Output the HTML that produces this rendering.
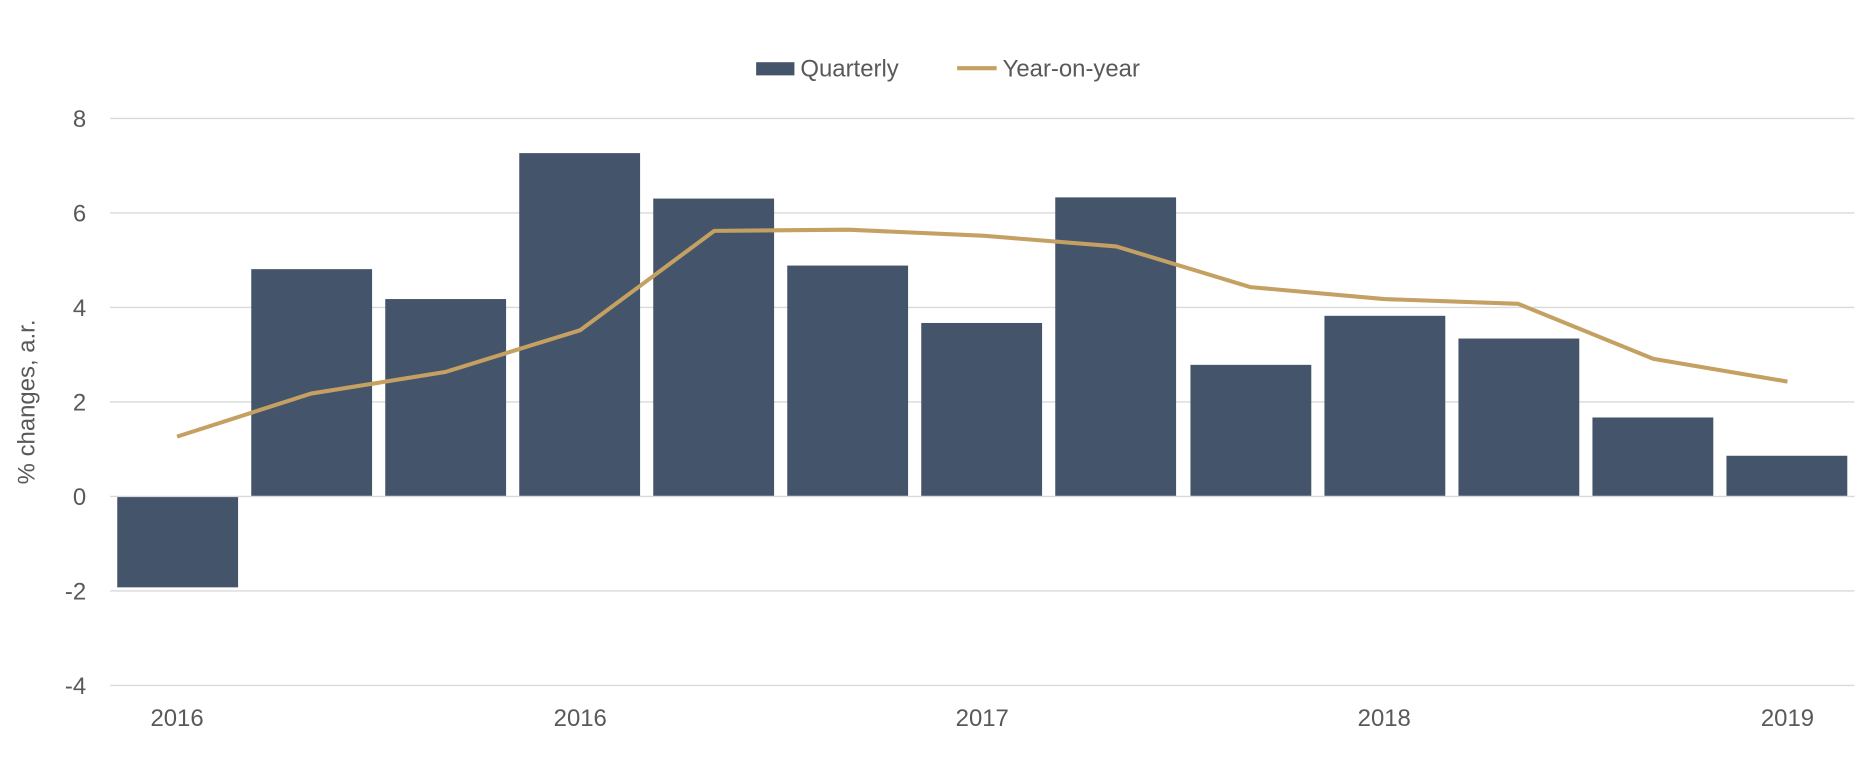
<!DOCTYPE html>
<html><head><meta charset="utf-8"><style>
html,body{margin:0;padding:0;background:#fff;}
svg{display:block;font-family:"Liberation Sans",Arial,sans-serif;}
</style></head><body>
<svg width="1876" height="762" viewBox="0 0 1568 637" preserveAspectRatio="none" xmlns="http://www.w3.org/2000/svg">
<rect width="1568" height="637" fill="#fff"/>
<g stroke="#d9d9d9" stroke-width="1.2">
<line x1="92" y1="99" x2="1550" y2="99"/>
<line x1="92" y1="178" x2="1550" y2="178"/>
<line x1="92" y1="257" x2="1550" y2="257"/>
<line x1="92" y1="336" x2="1550" y2="336"/>
<line x1="92" y1="494" x2="1550" y2="494"/>
<line x1="92" y1="573" x2="1550" y2="573"/>
</g>
<g fill="#44546A">
<rect x="98" y="415" width="101" height="76"/>
<rect x="210" y="225" width="101" height="190"/>
<rect x="322" y="250" width="101" height="165"/>
<rect x="434" y="128" width="101" height="287"/>
<rect x="546" y="166" width="101" height="249"/>
<rect x="658" y="222" width="101" height="193"/>
<rect x="770" y="270" width="101" height="145"/>
<rect x="882" y="165" width="101" height="250"/>
<rect x="995" y="305" width="101" height="110"/>
<rect x="1107" y="264" width="101" height="151"/>
<rect x="1219" y="283" width="101" height="132"/>
<rect x="1331" y="349" width="101" height="66"/>
<rect x="1443" y="381" width="101" height="34"/>
</g>
<line x1="92" y1="415" x2="1550" y2="415" stroke="#d9d9d9" stroke-width="1.2"/>
<polyline fill="none" stroke="#C4A062" stroke-width="3.4" stroke-linejoin="round" points="148,365 260,329 372,311 485,276 597,193 709,192 821,197 933,206 1045,240 1157,250 1269,254 1382,300 1494,319"/>
<g font-size="20" fill="#595959" text-anchor="end">
<text x="72" y="106">8</text>
<text x="72" y="185">6</text>
<text x="72" y="264">4</text>
<text x="72" y="343">2</text>
<text x="72" y="422">0</text>
<text x="72" y="501">-2</text>
<text x="72" y="580">-4</text>
</g>
<g font-size="20" fill="#595959" text-anchor="middle">
<text x="148" y="607">2016</text>
<text x="485" y="607">2016</text>
<text x="821" y="607">2017</text>
<text x="1157" y="607">2018</text>
<text x="1494" y="607">2019</text>
</g>
<text transform="translate(29,336) rotate(-90)" font-size="20" fill="#595959" text-anchor="middle">% changes, a.r.</text>
<rect x="632" y="52" width="32" height="11" fill="#44546A"/>
<text x="669" y="64" font-size="20" fill="#595959">Quarterly</text>
<line x1="800" y1="57" x2="833" y2="57" stroke="#C4A062" stroke-width="3.4"/>
<text x="838" y="64" font-size="20" fill="#595959">Year-on-year</text>
</svg>
</body></html>
